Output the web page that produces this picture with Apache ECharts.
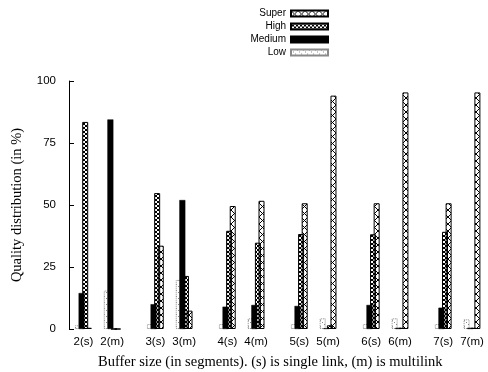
<!DOCTYPE html>
<html>
<head>
<meta charset="utf-8">
<script src="https://cdn.jsdelivr.net/npm/echarts@6/dist/echarts.min.js"></script>
<style>
html,body{margin:0;padding:0;background:#fff;}
#chart{width:488px;height:372px;}
</style>
</head>
<body>
<div id="chart"></div>
<script>
// ---- data ----
const categories = ['2(s)','2(m)','3(s)','3(m)','4(s)','4(m)','5(s)','5(m)','6(s)','6(m)','7(s)','7(m)'];
const lowVals    = [1.5, 15.5, 2.0, 19.8, 2.0, 4.3, 2.0, 4.3, 2.0, 4.3, 2.0, 3.9];
const mediumVals = [14.5, 84.5, 10.0, 52.0, 9.0, 9.7, 9.3, 0.3, 9.7, 0.5, 8.6, 0.5];
const highVals   = [83.5, 0.0, 54.8, 21.4, 39.6, 34.8, 38.3, 1.5, 38.2, 0.5, 39.2, 0.5];
const superVals  = [0.5, 0.0, 33.6, 7.4, 49.6, 51.7, 50.7, 94.1, 50.7, 95.4, 50.7, 95.4];
const yTicks = [0, 25, 50, 75, 100];

// ---- axis slots: pairs (s,m) separated by gaps ----
const SLOTS = 29;
function slotOf(i){ return 1 + 5 * Math.floor(i / 2) + 2 * (i % 2); }
const axisCats = new Array(SLOTS).fill('');
categories.forEach((c, i) => { axisCats[slotOf(i)] = c; });
function spread(vals){
  const arr = new Array(SLOTS).fill(null);
  vals.forEach((v, i) => { arr[slotOf(i)] = v; });
  return arr;
}

// ---- patterns ----
function makePattern(size, draw){
  const c = document.createElement('canvas');
  c.width = size; c.height = size;
  const ctx = c.getContext('2d');
  draw(ctx, size);
  return { image: c, repeat: 'repeat' };
}
const superPat = makePattern(7, (ctx, s) => {
  ctx.strokeStyle = '#000'; ctx.lineWidth = 1;
  ctx.beginPath();
  ctx.moveTo(0, 0); ctx.lineTo(s, s);
  ctx.moveTo(s, 0); ctx.lineTo(0, s);
  ctx.stroke();
});
const highPat = makePattern(4, (ctx, s) => {
  ctx.strokeStyle = '#000'; ctx.lineWidth = 1;
  ctx.beginPath();
  ctx.moveTo(0, 0); ctx.lineTo(s, s);
  ctx.moveTo(s, 0); ctx.lineTo(0, s);
  ctx.stroke();
});
const lowPat = makePattern(6, (ctx, s) => {
  ctx.fillStyle = '#888';
  for (let k = 0; k < s; k += 2) { ctx.fillRect(k, k, 1, 1); }
});

const chart = echarts.init(document.getElementById('chart'), null, {renderer: 'canvas'});

const barCommon = { type: 'bar', barWidth: 6, barGap: '-40%', clip: false, animation: false };

chart.setOption({
  backgroundColor: '#fff',
  animation: false,
  textStyle: { fontFamily: 'Liberation Sans', color: '#000' },
  title: {
    text: 'Buffer size (in segments). (s) is single link, (m) is multilink',
    left: 98, top: 355, padding: 0,
    textStyle: { fontFamily: 'Liberation Serif', fontSize: 14.5, fontWeight: 'normal', color: '#000' }
  },
  legend: {
    orient: 'vertical', align: 'right',
    right: 159, top: 7, padding: 0,
    itemWidth: 37, itemHeight: 6, itemGap: 0,
    icon: 'rect',
    textStyle: { fontFamily: 'Liberation Sans', fontSize: 10, color: '#000', lineHeight: 13 },
    data: ['Super', 'High', 'Medium', 'Low']
  },
  grid: { left: 69, right: 16, top: 81, bottom: 43 },
  xAxis: {
    type: 'category', data: axisCats, boundaryGap: false,
    axisLine: { show: false }, axisTick: { show: false },
    axisLabel: { interval: 0, fontSize: 11.5, color: '#000', margin: 7, fontFamily: 'Liberation Sans' },
    splitLine: { show: false }
  },
  yAxis: {
    type: 'value', min: yTicks[0], max: yTicks[yTicks.length - 1], interval: 25,
    name: 'Quality distribution (in %)', nameLocation: 'middle', nameGap: 44,
    nameTextStyle: { fontFamily: 'Liberation Serif', fontSize: 14.5, color: '#000' },
    axisLine: { show: true, lineStyle: { color: '#000', width: 1 } },
    axisTick: { show: true, inside: true, length: 5, lineStyle: { color: '#000' } },
    axisLabel: { fontSize: 11.5, color: '#000', margin: 13, fontFamily: 'Liberation Sans' },
    splitLine: { show: false }
  },
  series: [
    Object.assign({}, barCommon, { name: 'Low', data: spread(lowVals),
      itemStyle: { color: lowPat, borderColor: '#8a8a8a', borderWidth: 1, borderType: 'dotted' } }),
    Object.assign({}, barCommon, { name: 'Medium', data: spread(mediumVals),
      itemStyle: { color: '#000', borderColor: '#000', borderWidth: 0.5 } }),
    Object.assign({}, barCommon, { name: 'High', data: spread(highVals),
      itemStyle: { color: highPat, borderColor: '#000', borderWidth: 1 } }),
    Object.assign({}, barCommon, { name: 'Super', data: spread(superVals),
      itemStyle: { color: superPat, borderColor: '#000', borderWidth: 1 } })
  ]
});
</script>
</body>
</html>
